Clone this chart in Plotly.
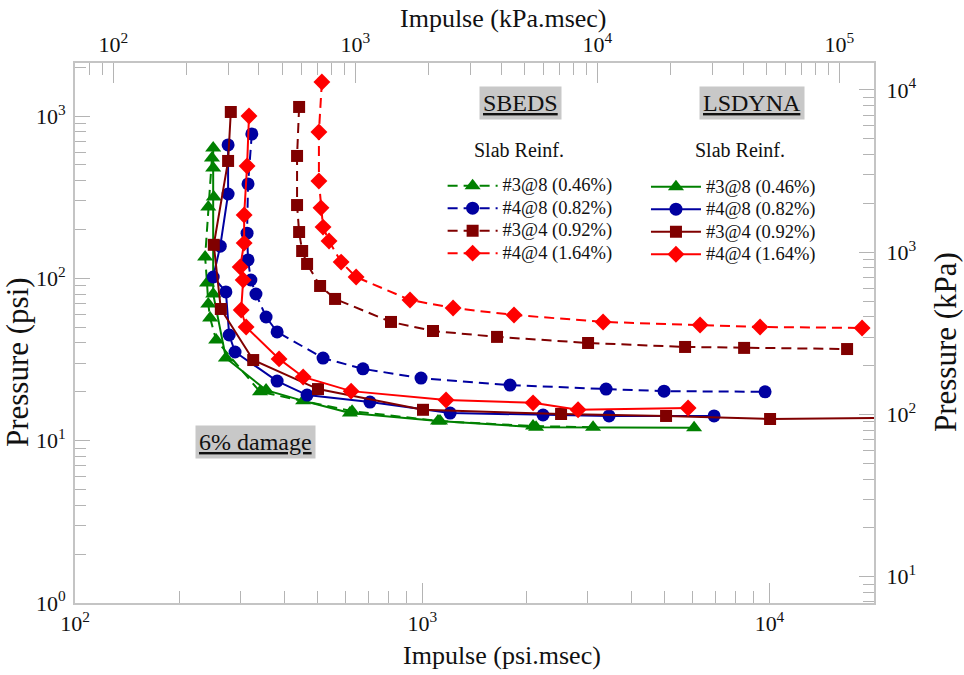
import numpy as np
import plotly.graph_objects as go

# ---------------- data ----------------
series_names = ["#3@8 (0.46%)", "#4@8 (0.82%)", "#3@4 (0.92%)", "#4@4 (1.64%)"]
series_colors = ["#008000", "#0000a0", "#800000", "#ff0000"]
series_symbols = ["triangle-up", "circle", "square", "diamond"]

# SBEDS (dashed)
sb_38_x = [248, 242, 237, 240, 242, 245, 255, 341, 628, 1125, 2085, 3104]
sb_38_y = [552, 275, 135.5, 93.7, 69.6, 57.0, 41.7, 20.0, 15.2, 13.2, 12.3, 12.1]
sb_48_x = [323, 315, 313, 315, 321, 332, 355, 382, 518, 675, 992, 1790, 3384, 4970, 9712]
sb_48_y = [776, 382, 190, 130, 97.7, 80.1, 57.8, 46.8, 32.3, 27.7, 24.3, 22.0, 20.8, 20.2, 20.0]
sb_34_x = [442, 436, 436, 442, 451, 466, 508, 561, 813, 1074, 1642, 3003, 5714, 8452, 16730]
sb_34_y = [1138, 568, 283, 193, 147.5, 122.7, 89.8, 74.7, 53.9, 47.4, 43.6, 40.0, 37.8, 37.3, 36.7]
sb_44_x = [514, 504, 504, 511, 518, 539, 584, 645, 922, 1227, 1838, 3317, 6311, 9395, 18480]
sb_44_y = [1622, 798, 398, 272, 207, 170, 126, 102, 73.6, 65.7, 59.5, 53.9, 51.6, 50.2, 49.5]

# LSDYNA (solid)
ls_38_x = [250, 250, 251, 250, 272, 355, 454, 619, 1110, 2127, 6066]
ls_38_y = [636, 479, 317, 80.1, 32.3, 20.5, 17.6, 14.8, 13.2, 12.1, 12.0]
ls_48_x = [276, 276, 262, 250, 272, 278, 289, 382, 466, 707, 1203, 2228, 3451, 6926]
ls_48_y = [664, 331, 158, 102, 82.5, 44.8, 35.2, 23.3, 19.1, 17.3, 14.8, 14.4, 14.2, 14.2]
ls_34_x = [281, 276, 251, 263, 326, 501, 1005, 2511, 5037, 10040, 20000]
ls_34_y = [1060, 529, 161, 64.8, 31.4, 20.8, 15.5, 14.6, 14.2, 13.6, 13.8]
ls_44_x = [317, 313, 307, 307, 299, 305, 301, 311, 387, 454, 624, 1171, 2085, 2810, 5829]
ls_44_y = [1001, 493, 246, 165, 117.6, 97.7, 63.9, 50.2, 31.9, 24.7, 20.2, 17.8, 17.1, 15.5, 15.9]

# axis tick labels
x_tick_vals = [100, 1000, 10000]
x_tick_text = ["10<sup>2</sup>", "10<sup>3</sup>", "10<sup>4</sup>"]
y_tick_vals = [1, 10, 100, 1000]
y_tick_text = ["10<sup>0</sup>", "10<sup>1</sup>", "10<sup>2</sup>", "10<sup>3</sup>"]
x2_tick_vals = [100, 1000, 10000, 100000]
x2_tick_text = ["10<sup>2</sup>", "10<sup>3</sup>", "10<sup>4</sup>", "10<sup>5</sup>"]
y2_tick_vals = [10, 100, 1000, 10000]
y2_tick_text = ["10<sup>1</sup>", "10<sup>2</sup>", "10<sup>3</sup>", "10<sup>4</sup>"]

PSI_TO_KPA = 6.895
FONT = "Liberation Serif"
TXT = "#111"


def minor_vals(e0, e1):
    return [k * 10.0 ** e for e in range(e0, e1 + 1) for k in range(2, 10)]


def big(label):
    return '<span style="font-size:18.5px">' + label + "</span>"


sbeds = [(sb_38_x, sb_38_y), (sb_48_x, sb_48_y), (sb_34_x, sb_34_y), (sb_44_x, sb_44_y)]
lsdyna = [(ls_38_x, ls_38_y), (ls_48_x, ls_48_y), (ls_34_x, ls_34_y), (ls_44_x, ls_44_y)]
msizes = [14, 13, 12, 13]

fig = go.Figure()
for i, (xs, ys) in enumerate(sbeds):
    fig.add_trace(go.Scatter(
        x=xs, y=ys, mode="lines+markers", name=big(series_names[i]), legend="legend",
        line=dict(color=series_colors[i], width=2, dash="10px,6px"),
        marker=dict(symbol=series_symbols[i], size=msizes[i], color=series_colors[i]),
        cliponaxis=False))
for i, (xs, ys) in enumerate(lsdyna):
    fig.add_trace(go.Scatter(
        x=xs, y=ys, mode="lines+markers", name=big(series_names[i]), legend="legend2",
        line=dict(color=series_colors[i], width=2),
        marker=dict(symbol=series_symbols[i], size=msizes[i], color=series_colors[i]),
        cliponaxis=False))

# dummy trace to activate secondary axes
fig.add_trace(go.Scatter(x=[], y=[], xaxis="x2", yaxis="y2", showlegend=False, hoverinfo="skip"))

x_lo, x_hi = 2.0, 4.301
y_lo, y_hi = 0.0, 3.327
x2_lo, x2_hi = 1.842, 5.143
y2_lo, y2_hi = y_lo + np.log10(PSI_TO_KPA), y_hi + np.log10(PSI_TO_KPA)

axis_common = dict(type="log", showgrid=False, zeroline=False, showline=True,
                   linecolor="#c4c4c4", linewidth=2, ticks="inside", tickcolor="#b4b4b4",
                   tickwidth=1, tickfont=dict(family=FONT, size=22, color=TXT))
minor_common = dict(ticks="inside", tickcolor="#b4b4b4")

legend_common = dict(xanchor="left", yanchor="top", bgcolor="rgba(0,0,0,0)",
                     font=dict(family=FONT, size=15, color=TXT), tracegroupgap=0,
                     itemwidth=50)

fig.update_layout(
    width=964, height=675,
    margin=dict(l=75, r=90, t=63, b=72, autoexpand=False),
    paper_bgcolor="white", plot_bgcolor="white",
    font=dict(family=FONT, color=TXT),
    xaxis=dict(**axis_common, range=[x_lo, x_hi], tickvals=x_tick_vals, ticktext=x_tick_text,
               ticklen=20, minor=dict(tickvals=minor_vals(2, 4), ticklen=12, **minor_common),
               anchor="y"),
    yaxis=dict(**axis_common, range=[y_lo, y_hi], tickvals=y_tick_vals, ticktext=y_tick_text,
               ticklen=15, ticklabelstandoff=3,
               minor=dict(tickvals=minor_vals(0, 3), ticklen=11, **minor_common), anchor="x"),
    xaxis2=dict(**axis_common, range=[x2_lo, x2_hi], tickvals=x2_tick_vals, ticktext=x2_tick_text,
                ticklen=20, minor=dict(tickvals=minor_vals(1, 5), ticklen=12, **minor_common),
                overlaying="x", side="top", anchor="y"),
    yaxis2=dict(**axis_common, range=[y2_lo, y2_hi], tickvals=y2_tick_vals, ticktext=y2_tick_text,
                ticklen=15, ticklabelstandoff=6,
                minor=dict(tickvals=minor_vals(0, 4), ticklen=11, **minor_common),
                overlaying="y", side="right", anchor="x"),
    legend=dict(x=0.4601, y=0.803, **legend_common),
    legend2=dict(x=0.7146, y=0.801, **legend_common),
    showlegend=True,
)

# axis titles
title_common = dict(xref="paper", yref="paper", showarrow=False, xanchor="center", yanchor="middle")
fig.add_annotation(text="Impulse (psi.msec)", x=0.5344, y=-0.0963,
                   font=dict(family=FONT, size=26, color=TXT), **title_common)
fig.add_annotation(text="Impulse (kPa.msec)", x=0.5369, y=1.0833,
                   font=dict(family=FONT, size=26, color=TXT), **title_common)
fig.add_annotation(text="Pressure (psi)", x=-0.0713, y=0.4463, textangle=-90,
                   font=dict(family=FONT, size=31, color=TXT), **title_common)
fig.add_annotation(text="Pressure (kPa)", x=1.0889, y=0.4833, textangle=-90,
                   font=dict(family=FONT, size=31, color=TXT), **title_common)

# legend headings
fig.add_annotation(text="Slab Reinf.", x=0.5557, y=0.8389,
                   font=dict(family=FONT, size=20, color=TXT), **title_common)
fig.add_annotation(text="Slab Reinf.", x=0.8323, y=0.8389,
                   font=dict(family=FONT, size=20, color=TXT), **title_common)

box = dict(xref="paper", yref="paper", showarrow=False, bgcolor="#c8c8c8", borderpad=3,
           xanchor="center", yanchor="middle",
           font=dict(family=FONT, size=24, color=TXT))
fig.add_annotation(text="<u>SBEDS</u>", x=0.557, y=0.926, **box)
fig.add_annotation(text="<u>LSDYNA</u>", x=0.847, y=0.926, **box)
fig.add_annotation(text="<u>6% damage</u>", x=0.226, y=0.298, **box)

fig.write_html("out.html")
